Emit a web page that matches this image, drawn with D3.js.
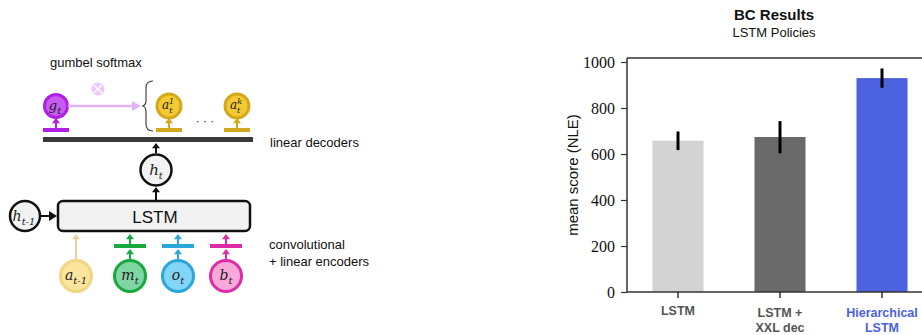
<!DOCTYPE html>
<html>
<head>
<meta charset="utf-8">
<script src="https://cdn.jsdelivr.net/npm/d3@7"></script>
<style>
  body { margin: 0; background: #fff; }
  svg { display: block; }
  .sans { font-family: "Liberation Sans", Arial, sans-serif; }
  .math { font-family: "DejaVu Serif", "Liberation Serif", serif; font-style: italic; }
</style>
</head>
<body>
<svg id="fig" width="922" height="335"></svg>
<script>
// chart data
var categories = ["LSTM", "LSTM +\nXXL dec", "Hierarchical\nLSTM"];
var means = [658, 674, 930];
var errLow = [617, 603, 888];
var errHigh = [698, 743, 972];
var barColors = ["#d3d3d3", "#696969", "#4b61dd"];
var labelColors = ["#555555", "#555555", "#4b61dd"];
var yTicks = [0, 200, 400, 600, 800, 1000];

var svg = d3.select("#fig");

// ---------- left: architecture diagram ----------
var diag = svg.append("g");

function arrowHead(g, x, y, color, size) {
    size = size || 5;
    g.append("path")
        .attr("d", "M" + (x - size) + "," + (y + size * 1.3) + "L" + x + "," + y + "L" + (x + size) + "," + (y + size * 1.3) + "Z")
        .attr("fill", color);
}

function upArrow(x, y1, y2, color, w) {
    diag.append("line")
        .attr("x1", x).attr("x2", x).attr("y1", y1).attr("y2", y2 + 4)
        .attr("stroke", color).attr("stroke-width", w || 2);
    arrowHead(diag, x, y2, color, 4);
}

function mathLabel(x, y, base, sub, sup, size) {
    var t = diag.append("text").attr("class", "math")
        .attr("x", x).attr("y", y)
        .attr("text-anchor", "middle")
        .attr("font-size", size || 14)
        .attr("fill", "#222");
    t.append("tspan").text(base);
    if (sup) {
        t.append("tspan").attr("font-size", 8).attr("dy", -5).text(sup);
        t.append("tspan").attr("font-size", 8).attr("dx", -5).attr("dy", 9).text(sub);
    } else if (sub) {
        t.append("tspan").attr("font-size", 10).attr("dy", 4).text(sub);
    }
}

function node(cx, cy, r, fill, stroke, sw) {
    diag.append("circle").attr("cx", cx).attr("cy", cy).attr("r", r)
        .attr("fill", fill).attr("stroke", stroke).attr("stroke-width", sw || 3);
}

// gumbel softmax text
diag.append("text").attr("class", "sans").attr("x", 50).attr("y", 67)
    .attr("font-size", 13).attr("fill", "#111").text("gumbel softmax");

// g_t
upArrow(56, 128, 118, "#b31fe6", 2);
diag.append("rect").attr("x", 43).attr("y", 128).attr("width", 26).attr("height", 4).attr("fill", "#b31fe6");
node(56, 106, 11.5, "#c85cf2", "#b01fe4", 3);
mathLabel(55, 110, "g", "t", null, 13);

// gumbel arrow + otimes
diag.append("line").attr("x1", 68).attr("x2", 134).attr("y1", 106).attr("y2", 106)
    .attr("stroke", "#e2b3f8").attr("stroke-width", 2.5);
diag.append("path").attr("d", "M132,101L141,106L132,111Z").attr("fill", "#e2b3f8");
diag.append("circle").attr("cx", 98).attr("cy", 89).attr("r", 6.5).attr("fill", "#ecc8fb");
diag.append("path").attr("d", "M94,85L102,93M102,85L94,93").attr("stroke", "#fff").attr("stroke-width", 1.5);

// brace
diag.append("path")
    .attr("d", "M153,81 Q146,81 146,88 L146,100 Q146,106 142,106 Q146,106 146,112 L146,124 Q146,131 153,131")
    .attr("fill", "none").attr("stroke", "#444").attr("stroke-width", 1.2);

// a_t^1 and a_t^k
[[169, "1"], [237, "k"]].forEach(function (d) {
    upArrow(d[0], 128, 118, "#d4a81c", 2);
    diag.append("rect").attr("x", d[0] - 13).attr("y", 128).attr("width", 26).attr("height", 4).attr("fill", "#d4a81c");
    node(d[0], 106, 12, "#f3c934", "#d4a81c", 3);
    mathLabel(d[0] - 1, 109, "a", "t", d[1], 12);
});
diag.append("text").attr("x", 205).attr("y", 125).attr("text-anchor", "middle")
    .attr("font-size", 12).attr("fill", "#333").attr("class", "sans").text("· · ·");

// linear decoders bar
diag.append("rect").attr("x", 43).attr("y", 137).attr("width", 210).attr("height", 5).attr("fill", "#3a3a3a");
diag.append("text").attr("class", "sans").attr("x", 270).attr("y", 147)
    .attr("font-size", 13).attr("fill", "#111").text("linear decoders");

// h_t
upArrow(156, 153, 143, "#111", 2);
node(156, 170, 15.5, "#f2f2f2", "#111", 2.5);
mathLabel(156, 175, "h", "t", null, 15);
upArrow(156, 200, 187, "#111", 2);

// LSTM box
diag.append("rect").attr("x", 58).attr("y", 201).attr("width", 192).attr("height", 30).attr("rx", 5)
    .attr("fill", "#f2f2f2").attr("stroke", "#111").attr("stroke-width", 2.5);
diag.append("text").attr("class", "sans").attr("x", 155).attr("y", 223).attr("text-anchor", "middle")
    .attr("font-size", 17).attr("fill", "#111").text("LSTM");

// h_{t-1}
node(25, 216, 15, "#f2f2f2", "#111", 2.5);
mathLabel(24, 221, "h", "t-1", null, 14);
diag.append("line").attr("x1", 40).attr("x2", 50).attr("y1", 216).attr("y2", 216).attr("stroke", "#111").attr("stroke-width", 2);
diag.append("path").attr("d", "M49,211L57,216L49,221Z").attr("fill", "#111");

// inputs
var inputs = [
    { x: 76, base: "a", sub: "t-1", fill: "#fbe59c", stroke: "#f0d680", bar: false, arrow: "#e6d3a0" },
    { x: 130, base: "m", sub: "t", fill: "#7fd6a2", stroke: "#18a83e", bar: true, arrow: "#18a83e" },
    { x: 178, base: "o", sub: "t", fill: "#82d5f6", stroke: "#2aa6d8", bar: true, arrow: "#2aa6d8" },
    { x: 226, base: "b", sub: "t", fill: "#f8a8d9", stroke: "#dd2ca5", bar: true, arrow: "#dd2ca5" }
];
inputs.forEach(function (d) {
    if (d.bar) {
        upArrow(d.x, 259, 249, d.arrow, 2);
        diag.append("rect").attr("x", d.x - 16).attr("y", 244).attr("width", 32).attr("height", 4).attr("fill", d.arrow);
        upArrow(d.x, 244, 234, d.arrow, 2);
    } else {
        upArrow(d.x, 259, 234, d.arrow, 2);
    }
    node(d.x, 276, 15.5, d.fill, d.stroke, 3);
    mathLabel(d.x, 280, d.base, d.sub, null, 14);
});
diag.append("text").attr("class", "sans").attr("x", 269).attr("y", 249)
    .attr("font-size", 13).attr("fill", "#111").text("convolutional");
diag.append("text").attr("class", "sans").attr("x", 269).attr("y", 266)
    .attr("font-size", 13).attr("fill", "#111").text("+ linear encoders");

// ---------- right: bar chart ----------
var plotLeft = 627, plotTop = 58, plotBottom = 292;
var chart = svg.append("g");

var x = d3.scaleBand().domain(categories).range([plotLeft, plotLeft + 306]).paddingInner(0.5).paddingOuter(0.25);
var y = d3.scaleLinear().domain([0, 1000]).range([plotBottom, plotTop + 4]);

chart.selectAll("rect.bar").data(categories).enter().append("rect")
    .attr("class", "bar")
    .attr("x", function (d) { return x(d); })
    .attr("width", x.bandwidth())
    .attr("y", function (d, i) { return y(means[i]); })
    .attr("height", function (d, i) { return plotBottom - y(means[i]); })
    .attr("fill", function (d, i) { return barColors[i]; });

chart.selectAll("line.err").data(categories).enter().append("line")
    .attr("class", "err")
    .attr("x1", function (d) { return x(d) + x.bandwidth() / 2; })
    .attr("x2", function (d) { return x(d) + x.bandwidth() / 2; })
    .attr("y1", function (d, i) { return y(errLow[i]); })
    .attr("y2", function (d, i) { return y(errHigh[i]); })
    .attr("stroke", "#000").attr("stroke-width", 3);

// frame
chart.append("line").attr("x1", plotLeft).attr("x2", 922).attr("y1", plotTop).attr("y2", plotTop)
    .attr("stroke", "#333").attr("stroke-width", 1.5);

var yAxis = d3.axisLeft(y).tickValues(yTicks).tickFormat(d3.format("d")).tickSize(6).tickPadding(6);
var gy = chart.append("g").attr("transform", "translate(" + plotLeft + ",0)").call(yAxis);
gy.select(".domain").attr("d", "M0," + plotTop + "V" + plotBottom).attr("stroke", "#333").attr("stroke-width", 1.5);
gy.selectAll(".tick line").attr("stroke", "#333").attr("stroke-width", 1.2);
gy.selectAll(".tick text").attr("font-family", "'Liberation Serif', 'DejaVu Serif', serif")
    .attr("font-size", 16).attr("fill", "#111");

var xAxis = d3.axisBottom(x).tickSize(6).tickFormat("");
var gx = chart.append("g").attr("transform", "translate(0," + plotBottom + ")").call(xAxis);
gx.select(".domain").attr("d", "M" + plotLeft + ",0H922").attr("stroke", "#333").attr("stroke-width", 1.5);
gx.selectAll(".tick line").attr("stroke", "#333").attr("stroke-width", 1.5);

gx.selectAll(".tick").each(function (d, i) {
    var lines = d.split("\n");
    var t = d3.select(this).append("text")
        .attr("class", "sans")
        .attr("text-anchor", "middle")
        .attr("font-size", 12.5).attr("font-weight", "bold")
        .attr("fill", labelColors[i]);
    lines.forEach(function (s, j) {
        t.append("tspan").attr("x", 0).attr("y", (i === 0 ? 23 : 25) + j * 15).text(s);
    });
});

chart.append("text").attr("class", "sans")
    .attr("transform", "translate(578," + ((plotTop + plotBottom) / 2) + ") rotate(-90)")
    .attr("text-anchor", "middle").attr("font-size", 15).attr("fill", "#111")
    .text("mean score (NLE)");

chart.append("text").attr("class", "sans").attr("x", 774).attr("y", 20)
    .attr("text-anchor", "middle").attr("font-size", 15).attr("font-weight", "bold").attr("fill", "#111")
    .text("BC Results");
chart.append("text").attr("class", "sans").attr("x", 774).attr("y", 37)
    .attr("text-anchor", "middle").attr("font-size", 13).attr("fill", "#111")
    .text("LSTM Policies");
</script>
</body>
</html>
